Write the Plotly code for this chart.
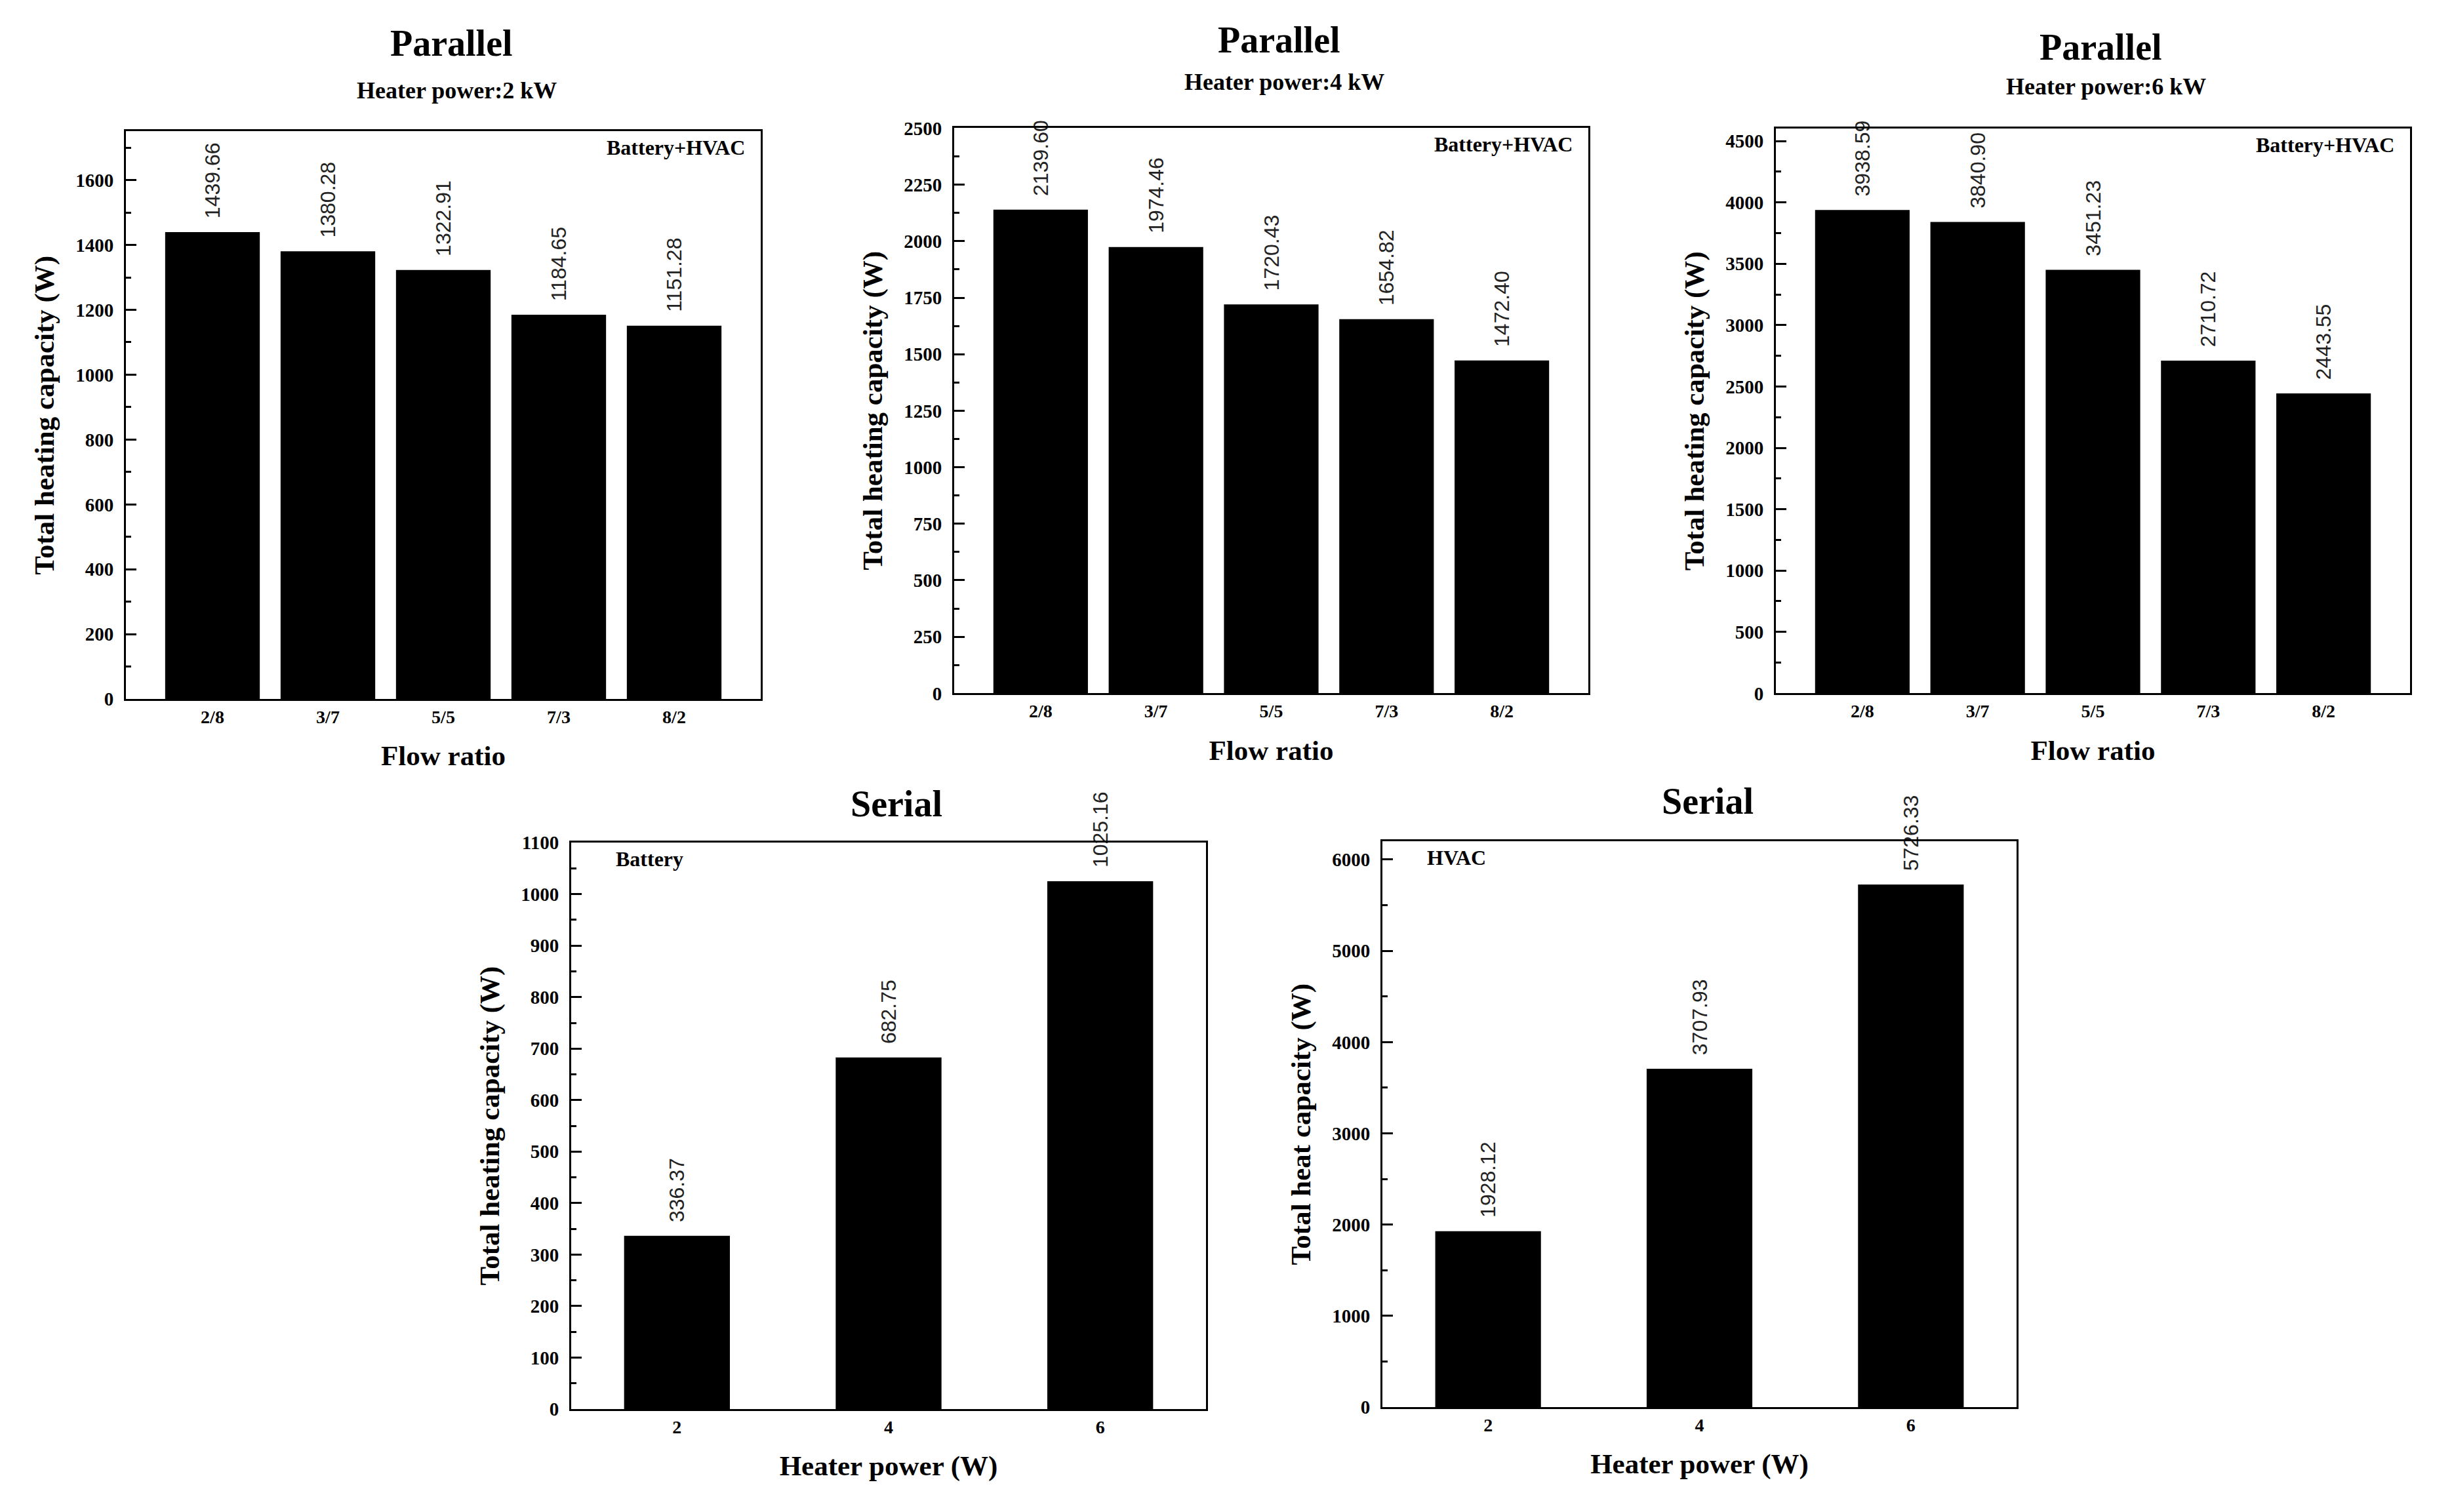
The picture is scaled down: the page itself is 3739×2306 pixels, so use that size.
import plotly.graph_objects as go

W, H = 3739, 2306
SERIF = "Liberation Serif"
SANS = "Liberation Sans"

# data
flow_ratio = ["2/8", "3/7", "5/5", "7/3", "8/2"]
parallel_2kw = [1439.66, 1380.28, 1322.91, 1184.65, 1151.28]
parallel_4kw = [2139.60, 1974.46, 1720.43, 1654.82, 1472.40]
parallel_6kw = [3938.59, 3840.90, 3451.23, 2710.72, 2443.55]

heater_power = ["2", "4", "6"]
serial_battery = [336.37, 682.75, 1025.16]
serial_hvac = [1928.12, 3707.93, 5726.33]


def fx(p):
    return p / W


def fy(p):
    return 1 - p / H


# frame in pixels: left, top, right, bottom
panels = [
    dict(x=flow_ratio, y=parallel_2kw, frame=(192, 187, 1160, 1065), yr=[0, 1750], dt=200, mdt=100,
         title="Parallel", ty=51, sub="Heater power:2 kW", sy=124, note="Battery+HVAC", right=True,
         xt="Flow ratio", yt="Total heating capacity (W)", xr=[-0.75, 4.75], bw=0.82),
    dict(x=flow_ratio, y=parallel_4kw, frame=(1455, 182, 2422, 1056), yr=[0, 2500], dt=250, mdt=125,
         title="Parallel", ty=46, sub="Heater power:4 kW", sy=111, note="Battery+HVAC", right=True,
         xt="Flow ratio", yt="Total heating capacity (W)", xr=[-0.75, 4.75], bw=0.82),
    dict(x=flow_ratio, y=parallel_6kw, frame=(2708, 183, 3675, 1056), yr=[0, 4600], dt=500, mdt=250,
         title="Parallel", ty=57, sub="Heater power:6 kW", sy=118, note="Battery+HVAC", right=True,
         xt="Flow ratio", yt="Total heating capacity (W)", xr=[-0.75, 4.75], bw=0.82),
    dict(x=heater_power, y=serial_battery, frame=(871, 1287, 1839, 2163), yr=[0, 1100], dt=100, mdt=50,
         title="Serial", ty=1227, sub=None, sy=None, note="Battery", right=False,
         xt="Heater power (W)", yt="Total heating capacity (W)", xr=[-0.5, 2.5], bw=0.5),
    dict(x=heater_power, y=serial_hvac, frame=(2108, 1285, 3075, 2160), yr=[0, 6200], dt=1000, mdt=500,
         title="Serial", ty=1223, sub=None, sy=None, note="HVAC", right=False,
         xt="Heater power (W)", yt="Total heat capacity (W)", xr=[-0.5, 2.5], bw=0.5),
]

fig = go.Figure()
annotations = []
layout = dict(width=W, height=H, margin=dict(l=0, r=0, t=0, b=0), showlegend=False,
              paper_bgcolor="white", plot_bgcolor="white", font=dict(family=SERIF, color="black"))

for i, p in enumerate(panels, start=1):
    sfx = "" if i == 1 else str(i)
    l, t, r, b = p["frame"]
    fig.add_trace(go.Bar(
        x=p["x"], y=p["y"], xaxis="x" + sfx, yaxis="y" + sfx,
        marker=dict(color="black", line=dict(width=0)), width=p["bw"],
        texttemplate="\u00a0\u00a0%{y:.2f}", textposition="outside", textangle=-90,
        textfont=dict(family=SANS, size=32, color="#222"), cliponaxis=False,
    ))
    layout["xaxis" + sfx] = dict(
        domain=[fx(l), fx(r)], anchor="y" + sfx, type="category", range=p["xr"],
        showline=True, mirror=True, linecolor="black", linewidth=3, ticks="",
        showgrid=False, zeroline=False,
        tickfont=dict(family=SERIF, size=28, weight="bold"),
        title=dict(text=p["xt"], font=dict(family=SERIF, size=43, weight="bold"), standoff=30),
    )
    layout["yaxis" + sfx] = dict(
        domain=[fy(b), fy(t)], anchor="x" + sfx, range=p["yr"], dtick=p["dt"], tick0=0,
        showline=True, mirror=True, linecolor="black", linewidth=3,
        ticks="inside", ticklen=16, tickwidth=3, tickcolor="black", ticklabelstandoff=10,
        minor=dict(ticks="inside", ticklen=8, tickwidth=3, dtick=p["mdt"], tickcolor="black"),
        showgrid=False, zeroline=False,
        tickfont=dict(family=SERIF, size=29, weight="bold"),
        title=dict(text=p["yt"], font=dict(family=SERIF, size=43, weight="bold"), standoff=20),
    )
    cx = (l + r) / 2
    annotations.append(dict(text=p["title"], x=fx(cx + 12), y=fy(p["ty"]), xref="paper", yref="paper",
                            xanchor="center", yanchor="middle", showarrow=False,
                            font=dict(family=SERIF, size=56, weight="bold")))
    if p["sub"]:
        annotations.append(dict(text=p["sub"], x=fx(cx + 20), y=fy(p["sy"]), xref="paper", yref="paper",
                                xanchor="center", yanchor="middle", showarrow=False,
                                font=dict(family=SERIF, size=36, weight="bold")))
    if p["right"]:
        annotations.append(dict(text=p["note"], x=fx(r - 22), y=fy(t + 25), xref="paper", yref="paper",
                                xanchor="right", yanchor="middle", showarrow=False,
                                font=dict(family=SERIF, size=32, weight="bold")))
    else:
        annotations.append(dict(text=p["note"], x=fx(l + 66), y=fy(t + 25), xref="paper", yref="paper",
                                xanchor="left", yanchor="middle", showarrow=False,
                                font=dict(family=SERIF, size=32, weight="bold")))

layout["annotations"] = annotations
fig.update_layout(layout)

fig.write_html("out.html", config={"displayModeBar": False},
               post_script="document.body.style.margin='0';")
